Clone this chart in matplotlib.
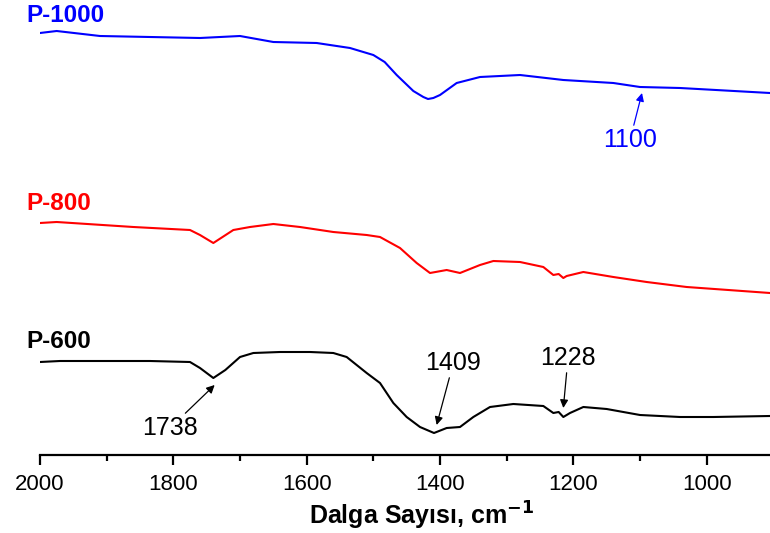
import matplotlib
matplotlib.use("Agg")
import matplotlib.pyplot as plt
from matplotlib.ticker import MultipleLocator

plt.rcParams['font.family'] = ['Liberation Sans', 'DejaVu Sans']

# P-600 (black)
wn_600 = [2000, 1970, 1910, 1835, 1775, 1760, 1740, 1722, 1700, 1680, 1640, 1595, 1560, 1540,
          1510, 1490, 1470, 1450, 1430, 1409, 1390, 1370, 1350, 1325, 1290, 1245, 1230, 1222,
          1215, 1205, 1185, 1150, 1100, 1040, 990, 905]
t_600 = [93, 94, 94, 94, 93, 87, 77, 85, 98, 102, 103, 103, 102, 98,
         82, 72, 52, 38, 28, 22, 27, 28, 38, 48, 51, 49, 42, 43,
         38, 42, 48, 46, 40, 38, 38, 39]

# P-800 (red)
wn_800 = [2000, 1975, 1860, 1775, 1760, 1740, 1710, 1685, 1650, 1610, 1560, 1510, 1490, 1460,
          1435, 1415, 1390, 1370, 1340, 1320, 1280, 1245, 1230, 1222, 1215, 1210, 1185, 1140,
          1090, 1030, 905]
t_800 = [232, 233, 228, 225, 220, 212, 225, 228, 231, 228, 223, 220, 218, 207,
         192, 182, 185, 182, 190, 194, 193, 188, 180, 181, 177, 179, 183, 178,
         173, 168, 162]

# P-1000 (blue)
wn_1000 = [2000, 1975, 1910, 1760, 1700, 1650, 1585, 1535, 1500, 1483, 1465, 1440, 1425, 1418,
           1410, 1400, 1375, 1340, 1280, 1215, 1140, 1100, 1040, 905]
t_1000 = [422, 424, 419, 417, 419, 413, 412, 407, 400, 393, 380, 364, 358, 356,
          357, 360, 372, 378, 380, 375, 372, 368, 367, 362]

series_names = ['P-1000', 'P-800', 'P-600']
series_colors = ['#0000FF', '#FF0000', '#000000']
xticks = [2000, 1800, 1600, 1400, 1200, 1000]

fig = plt.figure(figsize=(7.7, 5.33), dpi=100)
ax = fig.add_axes([40/770, 78/533, 730/770, 455/533])

for wn, t, c in [(wn_1000, t_1000, series_colors[0]), (wn_800, t_800, series_colors[1]),
                 (wn_600, t_600, series_colors[2])]:
    ax.plot(wn, t, color=c, lw=1.5)

ax.set_xlim(2000, 905)
ax.set_ylim(0, 455)
for s in ['left', 'right', 'top']:
    ax.spines[s].set_visible(False)
ax.spines['bottom'].set_linewidth(1.6)
ax.set_yticks([])
ax.set_xticks(xticks)
ax.xaxis.set_minor_locator(MultipleLocator(100))
ax.tick_params(axis='x', which='major', direction='out', length=7, width=1.6,
               labelsize=16, pad=7)
ax.tick_params(axis='x', which='minor', direction='out', length=4, width=1.6)
ax.set_xlabel('Dalga Sayısı, cm$^{\\mathbf{-1}}$', fontsize=18, fontweight='bold')
ax.xaxis.set_label_coords(0.523, -0.098)

# series labels
label_y = [440, 251, 114]
for name, c, y in zip(series_names, series_colors, label_y):
    ax.text(2021, y, name, color=c, fontsize=17.5, fontweight='bold', ha='left', va='center')

arrow = dict(arrowstyle='-|>', lw=0.9, mutation_scale=12, shrinkA=0, shrinkB=0)
ax.annotate('1100', xy=(1097, 362), xytext=(1115, 315), color='#0000FF', fontsize=18,
            ha='center', va='center',
            arrowprops=dict(arrow, color='#0000FF'))
ax.annotate('1738', xy=(1738, 70), xytext=(1805, 27), color='black', fontsize=18,
            ha='center', va='center',
            arrowprops=dict(arrow, color='black'))
ax.annotate('1409', xy=(1405, 30), xytext=(1380, 92), color='black', fontsize=18,
            ha='center', va='center',
            arrowprops=dict(arrow, color='black'))
ax.annotate('1228', xy=(1215, 47), xytext=(1208, 97), color='black', fontsize=18,
            ha='center', va='center',
            arrowprops=dict(arrow, color='black'))

fig.savefig('out.png', dpi=100)
